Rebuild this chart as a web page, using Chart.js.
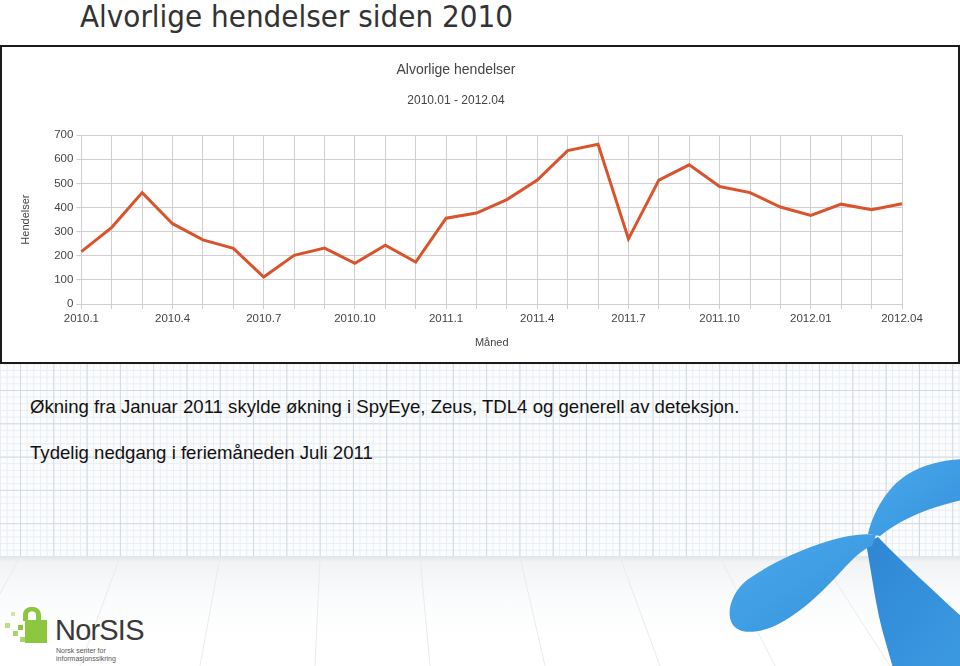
<!DOCTYPE html>
<html>
<head>
<meta charset="utf-8">
<script src="https://cdn.jsdelivr.net/npm/chart.js@4/dist/chart.umd.min.js"></script>
<style>
  html, body { margin: 0; padding: 0; }
  body { width: 960px; height: 666px; position: relative; overflow: hidden; background: #fff; font-family: "Liberation Sans", Arial, sans-serif; }
  #paper {
    position: absolute; left: 0; top: 362px; width: 960px; height: 196px;
    background-color: #fbfcfd;
    background-image:
      linear-gradient(to right, #d3d9e0 1px, transparent 1px),
      linear-gradient(to bottom, #d3d9e0 1px, transparent 1px),
      linear-gradient(to right, #eaedf1 1px, transparent 1px),
      linear-gradient(to bottom, #eaedf1 1px, transparent 1px);
    background-size: 33.3px 33.3px, 33.3px 33.3px, 6.66px 6.66px, 6.66px 6.66px;
    background-position: 20px 28px, 20px 28px, 20px 28px, 20px 28px;
  }
  #floor {
    position: absolute; left: 0; top: 556px; width: 960px; height: 110px;
    background: linear-gradient(to bottom, #dfe4e9 0px, #f1f3f5 6px, #fafbfc 40px, #ffffff 80px);
  }
  #title { position: absolute; left: 80px; top: -2px; font-family: "DejaVu Sans Condensed", "DejaVu Sans", sans-serif; font-size: 31px; color: #333; white-space: nowrap; }
  #frame { position: absolute; left: 0; top: 45px; width: 960px; height: 319px; box-sizing: border-box; border: 2px solid #1a1a1a; background: #fff; }
  #frame canvas { display: block; }
  .txt { position: absolute; left: 30px; font-size: 18.6px; color: #111; white-space: nowrap; }
  #norsis { position: absolute; left: 55px; top: 614px; font-size: 29px; color: #3a3a3a; letter-spacing: -0.8px; }
  #norsis-sub { position: absolute; left: 56px; top: 647px; font-size: 7px; line-height: 8px; color: #555; }
  svg { position: absolute; left: 0; top: 0; }
</style>
</head>
<body>
<div id="paper"></div>
<div id="floor"></div>
<svg width="960" height="666">
  <g stroke="#e8ebee" stroke-width="1" fill="none">
    <line x1="20" y1="557" x2="-40" y2="666"/>
    <line x1="120" y1="557" x2="80" y2="666"/>
    <line x1="220" y1="557" x2="200" y2="666"/>
    <line x1="320" y1="557" x2="315" y2="666"/>
    <line x1="420" y1="557" x2="430" y2="666"/>
    <line x1="520" y1="557" x2="545" y2="666"/>
    <line x1="620" y1="557" x2="660" y2="666"/>
    <line x1="720" y1="557" x2="775" y2="666"/>
    <line x1="820" y1="557" x2="890" y2="666"/>
  </g>
  <defs>
    <linearGradient id="blue" x1="0" y1="0" x2="1" y2="1">
      <stop offset="0" stop-color="#4aa9ec"/>
      <stop offset="1" stop-color="#3592dc"/>
    </linearGradient>
    <linearGradient id="blue2" x1="0" y1="0" x2="1" y2="1">
      <stop offset="0" stop-color="#2f86d3"/>
      <stop offset="1" stop-color="#3b9ae2"/>
    </linearGradient>
  </defs>
  <path fill="url(#blue)" d="M868 534 C 872 515, 885 490, 905 476 C 925 463, 945 460, 962 459 L 962 500 C 935 506, 905 516, 880 536 Z"/>
  <path fill="url(#blue2)" d="M866 543 C 872 575, 876 610, 885 640 L 893 668 L 962 668 L 962 617 C 935 592, 905 565, 878 537 Z"/>
  <path fill="url(#blue)" d="M876 535 C 850 530, 790 550, 747 580 C 728 595, 722 625, 742 631 C 770 637, 805 610, 835 578 C 850 562, 860 550, 872 546 Z"/>
  <g fill="#8dc63f">
    <rect x="25" y="620" width="22" height="23"/>
    <path d="M23 621 L23 615 C23 604, 41 604, 41 615 L41 621 L36 621 L36 615 C36 610, 28 610, 28 615 L28 621 Z"/>
    <rect x="18" y="625" width="5" height="5"/>
    <rect x="13" y="631" width="5" height="5" fill="#a9d46b"/>
    <rect x="5" y="623" width="5" height="5" fill="#b9dc84"/>
    <rect x="11" y="612" width="4" height="4" fill="#cfe6ab"/>
    <rect x="20" y="637" width="5" height="5" fill="#a9d46b"/>
  </g>
</svg>
<div id="title">Alvorlige hendelser siden 2010</div>
<div id="frame"><canvas id="chart" width="956" height="315"></canvas></div>
<div class="txt" style="top:396px">Økning fra Januar 2011 skylde økning i SpyEye, Zeus, TDL4 og generell av deteksjon.</div>
<div class="txt" style="top:442px">Tydelig nedgang i feriemåneden Juli 2011</div>
<div id="norsis">NorSIS</div>
<div id="norsis-sub">Norsk senter for<br>informasjonssikring</div>
<script>
var months = ['2010.1', '2010.2', '2010.3', '2010.4', '2010.5', '2010.6', '2010.7', '2010.8', '2010.9', '2010.10', '2010.11', '2010.12',
  '2011.1', '2011.2', '2011.3', '2011.4', '2011.5', '2011.6', '2011.7', '2011.8', '2011.9', '2011.10', '2011.11', '2011.12',
  '2012.01', '2012.02', '2012.03', '2012.04'];

var hendelser = [217, 318, 462, 333, 266, 231, 112, 202, 232, 169, 244, 174,
  356, 377, 433, 514, 636, 662, 270, 514, 577, 487, 462, 402,
  367, 414, 391, 416];

var yMin = 0;
var yMax = 700;
var yStep = 100;

var fontFam = '"Liberation Sans", Arial, sans-serif';
var gridColor = '#cfcfcf';
var textColor = '#444';

var chart = new Chart(document.getElementById('chart'), {
  type: 'line',
  data: {
    labels: months,
    datasets: [
      {
        label: 'Hendelser',
        data: hendelser,
        borderColor: '#d9542c',
        borderWidth: 3,
        pointRadius: 0,
        tension: 0,
        fill: false
      }
    ]
  },
  options: {
    responsive: false,
    animation: false,
    layout: {
      padding: { left: 8, right: 56, top: 0, bottom: 8 }
    },
    plugins: {
      legend: { display: false },
      tooltip: { enabled: false },
      title: {
        display: true,
        text: 'Alvorlige hendelser',
        color: textColor,
        font: { family: fontFam, size: 14, weight: 'normal' },
        padding: { top: 15, bottom: 15 }
      },
      subtitle: {
        display: true,
        text: '2010.01 - 2012.04',
        color: textColor,
        font: { family: fontFam, size: 12 },
        padding: { top: 0, bottom: 27 }
      }
    },
    scales: {
      x: {
        grid: { color: gridColor, tickLength: 5, tickColor: gridColor },
        border: { color: gridColor },
        ticks: {
          autoSkip: false,
          maxRotation: 0,
          padding: 3,
          color: textColor,
          font: { family: fontFam, size: 11.5 },
          callback: function (val, i) { return i % 3 === 0 ? months[i] : ''; }
        },
        title: {
          display: true,
          text: 'Måned',
          color: textColor,
          font: { family: fontFam, size: 11 },
          padding: { top: 8, bottom: 4 }
        }
      },
      y: {
        min: yMin,
        max: yMax,
        grid: { color: gridColor, tickLength: 5, tickColor: gridColor },
        border: { color: gridColor },
        ticks: {
          stepSize: yStep,
          padding: 3,
          color: textColor,
          font: { family: fontFam, size: 11.5 }
        },
        title: {
          display: true,
          text: 'Hendelser',
          color: textColor,
          font: { family: fontFam, size: 11 },
          padding: { top: 9, bottom: 19 }
        }
      }
    }
  }
});
</script>
</body>
</html>
